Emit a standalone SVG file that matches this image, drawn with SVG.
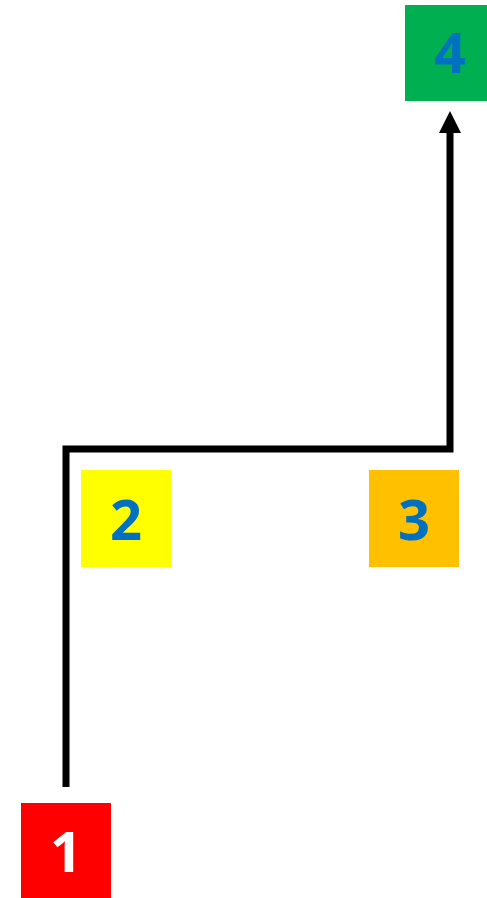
<svg xmlns="http://www.w3.org/2000/svg" width="487" height="898" viewBox="0 0 487 898">
<style>
.lbl{font-family:"Open Sans","Noto Sans",sans-serif;font-weight:bold;font-size:56px;text-anchor:middle;fill:#0070C0}
.conn{fill:none;stroke:#000;stroke-width:7;stroke-linejoin:miter}
.head{fill:#000}
</style>
<rect width="487" height="898" fill="#fff"/>
<g id="connectors">
<path class="conn" d="M66,787 V449 H450 V133"/>
<polygon class="head" points="439,133 461,133 450,111"/>
</g>
<g id="node1">
<rect x="21" y="803" width="90" height="95" fill="#FF0000"/>
<text class="lbl" x="66" y="872" style="fill:#fff">1</text>
</g>
<g id="node2">
<rect x="81" y="470" width="90" height="97" fill="#FFFF00"/>
<text class="lbl" x="126" y="540">2</text>
</g>
<g id="node3">
<rect x="369" y="470" width="90" height="97" fill="#FFC000"/>
<text class="lbl" x="414" y="540">3</text>
</g>
<g id="node4">
<rect x="405" y="5" width="82" height="96" fill="#00B050"/>
<text class="lbl" x="450" y="73">4</text>
</g>
</svg>
